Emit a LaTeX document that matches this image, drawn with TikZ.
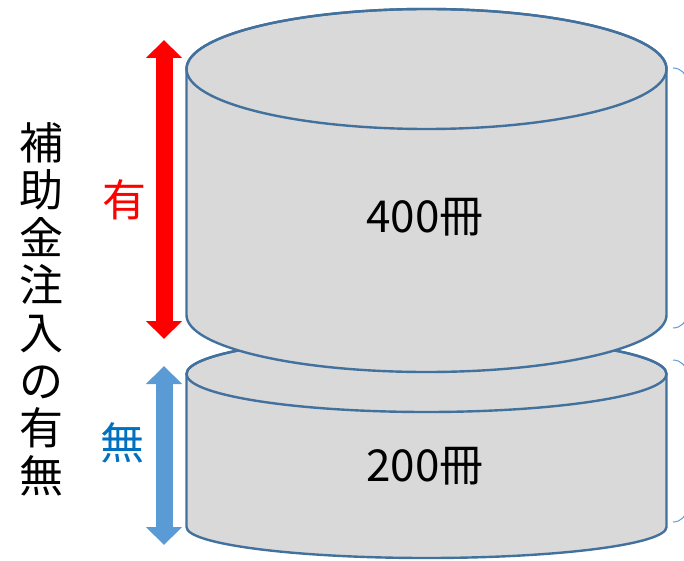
\documentclass[tikz,border=0pt]{standalone}
\usepackage{fontspec}
\newfontfamily\cjk{Noto Sans CJK JP}
\usetikzlibrary{arrows.meta}
\definecolor{cylfill}{HTML}{D9D9D9}
\definecolor{cyledge}{HTML}{41719C}
\definecolor{lowblue}{HTML}{5B9BD5}
\definecolor{nashi}{HTML}{0070C0}
\begin{document}
\begin{tikzpicture}[x=1pt,y=1pt,
    cyl/.style={fill=cylfill,draw=cyledge,line width=2.4pt},
    bigtext/.style={font={\cjk\fontsize{44}{47.6}\selectfont},inner sep=0pt},
    fat/.style={line width=17pt,{Triangle[width=35pt,length=18pt]}-{Triangle[width=35pt,length=18pt]}}]
      \useasboundingbox (0,0) rectangle (684,560);
      \clip (0,0) rectangle (684,560);
      % lower cylinder
      \filldraw[cyl] (186.5,186) -- (186.5,33)
        arc[start angle=180,end angle=360,x radius=240,y radius=31]
        -- (666.5,186)
        arc[start angle=0,end angle=180,x radius=240,y radius=38] -- cycle;
      \draw[cyl,fill=none] (426.5,186) ellipse [x radius=240,y radius=38];
      % upper cylinder
      \filldraw[cyl] (186.5,491) -- (186.5,245)
        arc[start angle=180,end angle=360,x radius=240,y radius=57]
        -- (666.5,491)
        arc[start angle=0,end angle=180,x radius=240,y radius=60] -- cycle;
      \draw[cyl,fill=none] (426.5,491) ellipse [x radius=240,y radius=60];
      % labels
      \node[bigtext] (big) at (425,343) {400冊};
      \node[bigtext] (small) at (425,94) {200冊};
      \node[bigtext,red] (ari) at (124,360) {有};
      \node[bigtext,nashi] (nashi) at (122,117) {無};
      \node[bigtext,align=center] (title) at (41,251)
        {補\\助\\金\\注\\入\\の\\有\\無};
      % arrows
      \coordinate (rtop) at (164,520);
      \coordinate (rbot) at (164,221);
      \coordinate (btop) at (164,194);
      \coordinate (bbot) at (164,15);
      \draw[fat,red] (rbot) -- (rtop);
      \draw[fat,lowblue] (bbot) -- (btop);
      % brace ends at the right edge
      \begin{scope}[lowblue,line width=1pt]
        \draw (673,492) arc[start angle=90,end angle=0,radius=14];
        \draw (673,232) arc[start angle=270,end angle=360,radius=14];
        \draw (673,200) arc[start angle=90,end angle=0,radius=14];
        \draw (673,38) arc[start angle=270,end angle=360,radius=14];
      \end{scope}
\end{tikzpicture}
\end{document}
